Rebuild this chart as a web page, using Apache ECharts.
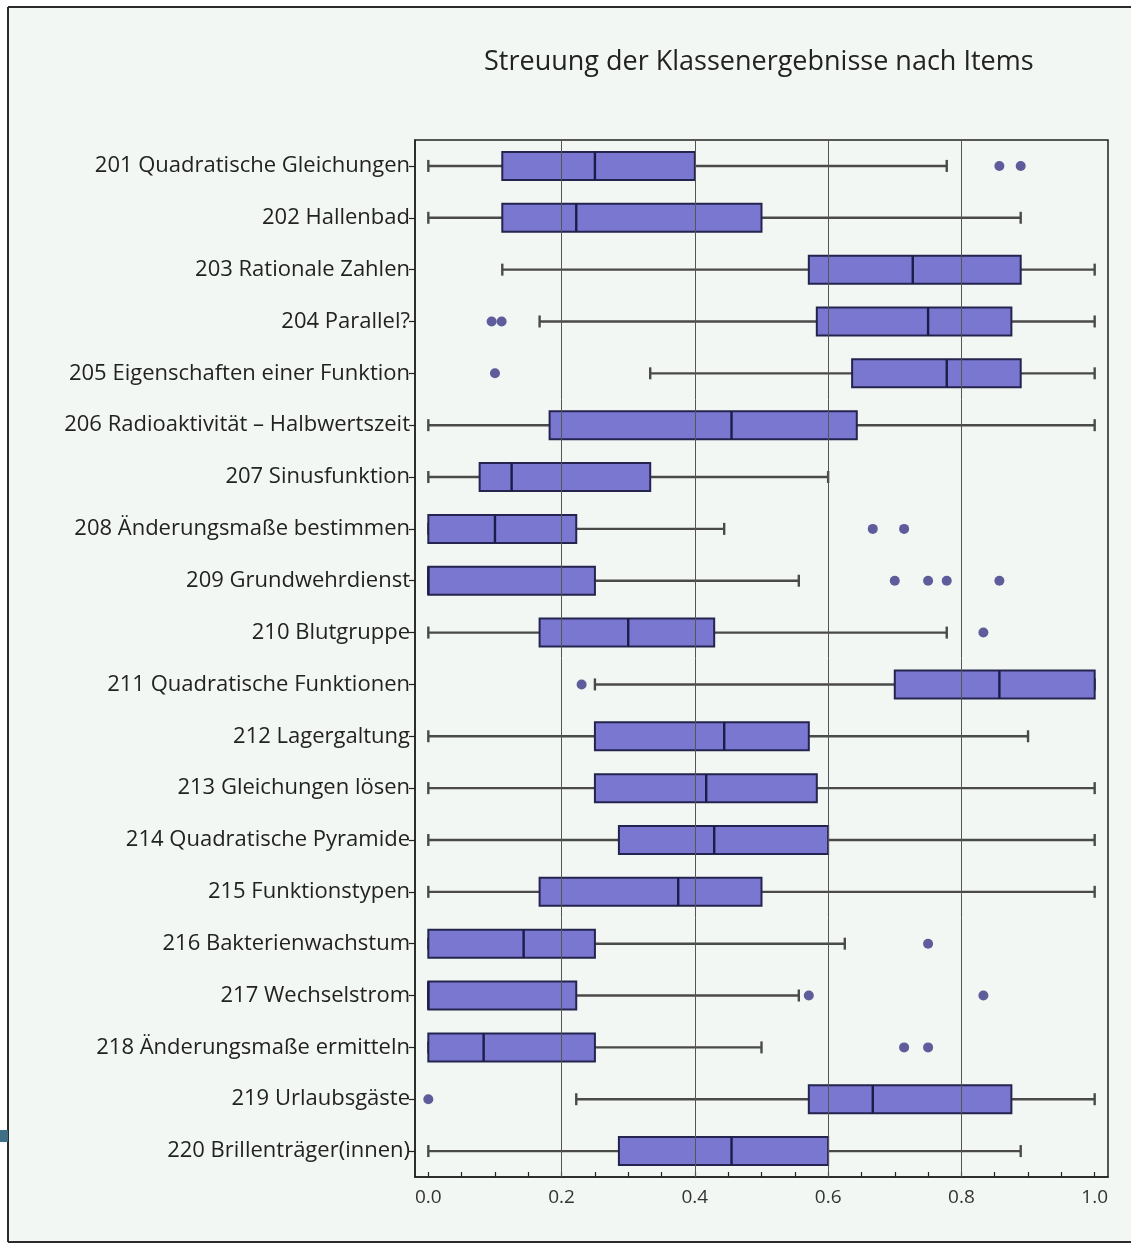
<!DOCTYPE html>
<html>
<head>
<meta charset="utf-8">
<script src="https://cdn.jsdelivr.net/npm/echarts@6/dist/echarts.min.js"></script>
<style>
  html, body { margin: 0; padding: 0; background: #ffffff; }
  #chart { width: 1131px; height: 1244px; }
</style>
</head>
<body>
<div id="chart"></div>
<script>
// Items (one box per item, top to bottom)
var items = [
  '201 Quadratische Gleichungen',
  '202 Hallenbad',
  '203 Rationale Zahlen',
  '204 Parallel?',
  '205 Eigenschaften einer Funktion',
  '206 Radioaktivität – Halbwertszeit',
  '207 Sinusfunktion',
  '208 Änderungsmaße bestimmen',
  '209 Grundwehrdienst',
  '210 Blutgruppe',
  '211 Quadratische Funktionen',
  '212 Lagergaltung',
  '213 Gleichungen lösen',
  '214 Quadratische Pyramide',
  '215 Funktionstypen',
  '216 Bakterienwachstum',
  '217 Wechselstrom',
  '218 Änderungsmaße ermitteln',
  '219 Urlaubsgäste',
  '220 Brillenträger(innen)'
];

// Five-number summaries per item: whisker low, Q1, median, Q3, whisker high
var whiskerLow = [0.000, 0.000, 0.111, 0.167, 0.333, 0.000, 0.000, 0.000, 0.000, 0.000,
                  0.250, 0.000, 0.000, 0.000, 0.000, 0.000, 0.000, 0.000, 0.222, 0.000];
var q1         = [0.111, 0.111, 0.571, 0.583, 0.636, 0.182, 0.077, 0.000, 0.000, 0.167,
                  0.700, 0.250, 0.250, 0.286, 0.167, 0.000, 0.000, 0.000, 0.571, 0.286];
var median     = [0.250, 0.222, 0.727, 0.750, 0.778, 0.455, 0.125, 0.100, 0.000, 0.300,
                  0.857, 0.444, 0.417, 0.429, 0.375, 0.143, 0.000, 0.083, 0.667, 0.455];
var q3         = [0.400, 0.500, 0.889, 0.875, 0.889, 0.643, 0.333, 0.222, 0.250, 0.429,
                  1.000, 0.571, 0.583, 0.600, 0.500, 0.250, 0.222, 0.250, 0.875, 0.600];
var whiskerHigh= [0.778, 0.889, 1.000, 1.000, 1.000, 1.000, 0.600, 0.444, 0.556, 0.778,
                  1.000, 0.900, 1.000, 1.000, 1.000, 0.625, 0.556, 0.500, 1.000, 0.889];

// Outliers as [value, item index]
var outliers = [
  [0.857, 0], [0.889, 0],
  [0.095, 3], [0.110, 3],
  [0.100, 4],
  [0.667, 7], [0.714, 7],
  [0.700, 8], [0.750, 8], [0.778, 8], [0.857, 8],
  [0.833, 9],
  [0.230, 10],
  [0.750, 15],
  [0.571, 16], [0.833, 16],
  [0.714, 17], [0.750, 17],
  [0.000, 18]
];

// Axis labels and ticks
var xLabelValues = [0, 0.2, 0.4, 0.6, 0.8, 1.0];
var xTickValues = [0, 0.05, 0.1, 0.15, 0.2, 0.25, 0.3, 0.35, 0.4, 0.45, 0.5,
                   0.55, 0.6, 0.65, 0.7, 0.75, 0.8, 0.85, 0.9, 0.95, 1.0];
var gridValues = [0.2, 0.4, 0.6, 0.8];

var boxData = items.map(function (_, i) {
  return [i, whiskerLow[i], q1[i], median[i], q3[i], whiskerHigh[i]];
});

var FONT = '"Open Sans", "DejaVu Sans", sans-serif';
var frameLine = { stroke: '#2b2b2b', lineWidth: 2 };

var chart = echarts.init(document.getElementById('chart'));

chart.setOption({
  animation: false,
  backgroundColor: '#ffffff',
  graphic: [
    {
      type: 'rect', z: -10, silent: true,
      shape: { x: 8, y: 7, width: 1123, height: 1235 },
      style: { fill: '#f3f7f3' }
    },
    { type: 'line', z: -9, silent: true, shape: { x1: 8, y1: 7, x2: 1131, y2: 7 }, style: frameLine },
    { type: 'line', z: -9, silent: true, shape: { x1: 8, y1: 7, x2: 8, y2: 1242 }, style: frameLine },
    { type: 'line', z: -9, silent: true, shape: { x1: 8, y1: 1242, x2: 1131, y2: 1242 }, style: frameLine },
    {
      type: 'rect', z: -9, silent: true,
      shape: { x: 0, y: 1130, width: 8, height: 12 },
      style: { fill: '#3d6f86' }
    }
  ],
  title: {
    text: 'Streuung der Klassenergebnisse nach Items',
    left: 479,
    top: 44,
    textStyle: { fontFamily: FONT, fontSize: 27, fontWeight: 'normal', color: '#222' }
  },
  grid: {
    left: 415, top: 140, right: 23, bottom: 67,
    show: true, borderColor: '#222', borderWidth: 1.5,
    backgroundColor: 'transparent'
  },
  xAxis: {
    type: 'value',
    min: -0.02,
    max: 1.02,
    axisLine: { show: true, onZero: false, lineStyle: { color: '#222', width: 1.5 } },
    axisTick: {
      show: true, inside: true, length: 5,
      customValues: xTickValues,
      lineStyle: { color: '#222', width: 1.2 }
    },
    axisLabel: {
      customValues: xLabelValues,
      formatter: function (v) { return v.toFixed(1); },
      fontFamily: FONT, fontSize: 19, color: '#333', margin: 11
    },
    splitLine: { show: false }
  },
  yAxis: {
    type: 'category',
    data: items,
    inverse: true,
    axisLine: { show: true, onZero: false, lineStyle: { color: '#222', width: 1.5 } },
    axisTick: { show: true, alignWithLabel: true, length: 6, lineStyle: { color: '#222', width: 1.2 } },
    axisLabel: { fontFamily: FONT, fontSize: 22, color: '#222', margin: 5 },
    splitLine: { show: false }
  },
  series: [
    {
      type: 'custom',
      z: 2,
      data: boxData,
      encode: { x: [1, 2, 3, 4, 5], y: 0 },
      renderItem: function (params, api) {
        var cat = api.value(0);
        var lo = api.coord([api.value(1), cat]);
        var a = api.coord([api.value(2), cat]);
        var md = api.coord([api.value(3), cat]);
        var b = api.coord([api.value(4), cat]);
        var hi = api.coord([api.value(5), cat]);
        var y = lo[1];
        var bh = 28;
        var cap = 6;
        var whisk = { stroke: '#4a4a4a', lineWidth: 2.4 };
        return {
          type: 'group',
          children: [
            { type: 'line', shape: { x1: lo[0], y1: y, x2: hi[0], y2: y }, style: whisk },
            { type: 'line', shape: { x1: lo[0], y1: y - cap, x2: lo[0], y2: y + cap }, style: whisk },
            { type: 'line', shape: { x1: hi[0], y1: y - cap, x2: hi[0], y2: y + cap }, style: whisk },
            {
              type: 'rect',
              shape: { x: a[0], y: y - bh / 2, width: b[0] - a[0], height: bh },
              style: { fill: '#7a77d1', stroke: '#24244e', lineWidth: 2 }
            },
            {
              type: 'line',
              shape: { x1: md[0], y1: y - bh / 2, x2: md[0], y2: y + bh / 2 },
              style: { stroke: '#1c1c48', lineWidth: 2.4 }
            }
          ]
        };
      }
    },
    {
      type: 'scatter',
      z: 3,
      data: outliers,
      encode: { x: 0, y: 1 },
      symbol: 'circle',
      symbolSize: 10,
      itemStyle: { color: '#3a3585' },
      markLine: {
        silent: true,
        symbol: ['none', 'none'],
        label: { show: false },
        lineStyle: { color: '#555555', width: 1, type: 'solid' },
        data: gridValues.map(function (v) { return { xAxis: v }; })
      }
    }
  ]
});
</script>
</body>
</html>
